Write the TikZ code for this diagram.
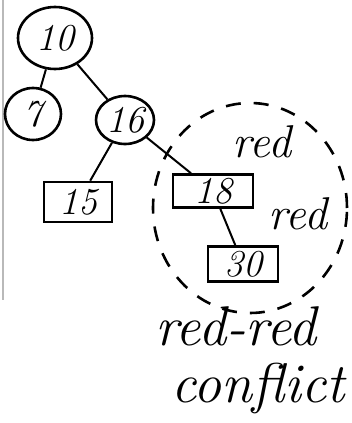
\documentclass[tikz,border=0pt]{standalone}
\usetikzlibrary{shapes.geometric}
\begin{document}
\begin{tikzpicture}[x=1pt,y=-1pt,
  ink/.style={draw=black,line width=2.6pt},
  circnode/.style={ellipse,ink,inner sep=0pt,font=\fontsize{38}{38}\selectfont\itshape},
  boxnode/.style={rectangle,ink,inner sep=0pt,font=\fontsize{38}{38}\selectfont\itshape},
  edge/.style={draw=black,line width=2pt},
  note/.style={font=\fontsize{46}{46}\selectfont\itshape},
  bignote/.style={font=\fontsize{56}{56}\selectfont\itshape}]
\useasboundingbox (0,0) rectangle (351,423);
\fill[white] (0,0) rectangle (351,423);
\draw[gray!55,line width=2pt] (3,0) -- (3,300);
% tree nodes
\node[circnode,minimum width=74pt,minimum height=62pt] (n10) at (55,38) {10};
\node[circnode,minimum width=56pt,minimum height=52pt] (n7) at (33,114) {7};
\node[circnode,minimum width=58pt,minimum height=48pt] (n16) at (125,120) {16};
\node[boxnode,minimum width=68pt,minimum height=40pt] (n15) at (78,202) {15};
\node[boxnode,minimum width=80pt,minimum height=33pt] (n18) at (213,191) {18};
\node[boxnode,minimum width=70pt,minimum height=35pt] (n30) at (243,264) {30};
% connectors
\draw[edge] (n10) -- (n7);
\draw[edge] (n10) -- (n16);
\draw[edge] (n16) -- (n15);
\draw[edge] (n16) -- (n18);
\draw[edge] (n18) -- (n30);
% conflict region
\node[ellipse,draw=black,line width=2.6pt,dash pattern=on 15pt off 13pt,minimum width=194pt,minimum height=210pt] (region) at (250,208) {};
\node[note] (red1) at (262,142) {red};
\node[note] (red2) at (298,214) {red};
\node[bignote] (rr) at (236,326) {red-red};
\node[bignote,anchor=west] (conf) at (168,388) {conflict};
\end{tikzpicture}
\end{document}
